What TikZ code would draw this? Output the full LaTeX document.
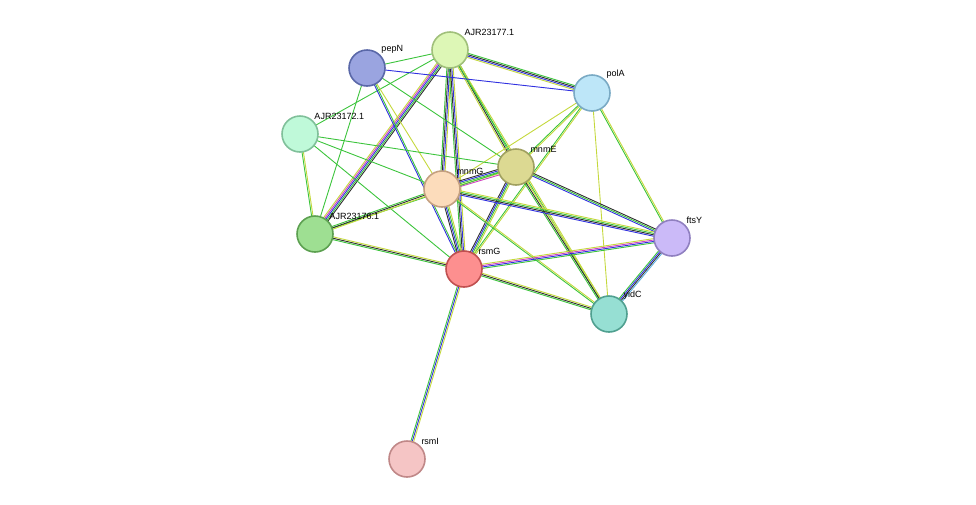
\documentclass[tikz,border=0pt]{standalone}
\usepackage{fontspec}
\setmainfont{Liberation Sans}
\usetikzlibrary{calc,backgrounds}
\definecolor{eg}{HTML}{3CC43C}
\definecolor{ey}{HTML}{C4D83C}
\definecolor{eb}{HTML}{3030E0}
\definecolor{ek}{HTML}{303030}
\definecolor{em}{HTML}{D040C0}
\definecolor{ec}{HTML}{60B0E0}
\tikzset{
  prot/.style={circle,draw,line width=1.6pt,minimum size=36pt,inner sep=0pt},
  lbl/.style={font=\fontsize{9}{10}\selectfont,inner sep=1pt,anchor=south west},
}
% parallel coloured lines between two nodes
\newcommand{\lnk}[3]{%
  \foreach \c [count=\i] in {#3} {\xdef\nl{\i}}%
  \foreach \c [count=\i] in {#3} {%
    \pgfmathsetmacro\off{(\i-(\nl+1)/2)*1.4}%
    \draw[\c,line width=0.9pt] ($(#1)!\off pt!90:(#2)$) -- ($(#2)!\off pt!-90:(#1)$);}%
}
\begin{document}
\begin{tikzpicture}[x=1pt,y=-1pt]
\useasboundingbox (0,0) rectangle (976,504);
\node[prot,fill={rgb,255:red,154;green,164;blue,224},draw={rgb,255:red,90;green,104;blue,168},label={[lbl]45:pepN}] (pepN) at (367,68) {};
\node[prot,fill={rgb,255:red,221;green,247;blue,182},draw={rgb,255:red,160;green,192;blue,122},label={[lbl]45:AJR23177.1}] (a177) at (450,50) {};
\node[prot,fill={rgb,255:red,189;green,230;blue,248},draw={rgb,255:red,122;green,170;blue,196},label={[lbl]45:polA}] (polA) at (592,93) {};
\node[prot,fill={rgb,255:red,191;green,249;blue,217},draw={rgb,255:red,128;green,192;blue,154},label={[lbl]45:AJR23172.1}] (a172) at (300,134) {};
\node[prot,fill={rgb,255:red,220;green,217;blue,146},draw={rgb,255:red,160;green,160;blue,96},label={[lbl]45:mnmE}] (mnmE) at (516,167) {};
\node[prot,fill={rgb,255:red,252;green,220;blue,187},draw={rgb,255:red,196;green,160;blue,128},label={[lbl]45:mnmG}] (mnmG) at (442,189) {};
\node[prot,fill={rgb,255:red,158;green,223;blue,146},draw={rgb,255:red,92;green,160;blue,80},label={[lbl]45:AJR23176.1}] (a176) at (315,234) {};
\node[prot,fill={rgb,255:red,203;green,186;blue,248},draw={rgb,255:red,144;green,128;blue,192},label={[lbl]45:ftsY}] (ftsY) at (672,238) {};
\node[prot,fill={rgb,255:red,253;green,143;blue,143},draw={rgb,255:red,192;green,80;blue,80},label={[lbl]45:rsmG}] (rsmG) at (464,269) {};
\node[prot,fill={rgb,255:red,150;green,223;blue,211},draw={rgb,255:red,80;green,160;blue,144},label={[lbl]45:yidC}] (yidC) at (609,314) {};
\node[prot,fill={rgb,255:red,245;green,197;blue,197},draw={rgb,255:red,192;green,136;blue,136},label={[lbl]45:rsmI}] (rsmI) at (407,459) {};
\begin{scope}[on background layer]
\lnk{a177}{pepN}{eg}
\lnk{a177}{polA}{ey,eb,ek,eg}
\lnk{a177}{mnmE}{ey,ek,eg}
\lnk{a177}{mnmG}{eg,ek,eb,ey}
\lnk{a177}{rsmG}{eg,ek,eb,ey}
\lnk{a177}{a176}{ey,em,eb,eg,ek}
\lnk{a177}{a172}{eg}
\lnk{a177}{yidC}{eg,ey}
\lnk{pepN}{polA}{eb}
\lnk{pepN}{mnmE}{eg}
\lnk{pepN}{rsmG}{eb,eg}
\lnk{pepN}{a176}{eg}
\lnk{pepN}{mnmG}{ey}
\lnk{polA}{mnmE}{eg,ey}
\lnk{polA}{mnmG}{ey}
\lnk{polA}{rsmG}{eg,ey}
\lnk{polA}{ftsY}{eg,ey}
\lnk{polA}{yidC}{ey}
\lnk{a172}{a176}{eg,ey}
\lnk{a172}{mnmE}{eg}
\lnk{a172}{rsmG}{eg}
\lnk{a172}{mnmG}{eg}
\lnk{mnmE}{mnmG}{ek,eb,eg,ey,em}
\lnk{mnmE}{rsmG}{ek,eb,eg,ey}
\lnk{mnmE}{a176}{eg}
\lnk{mnmE}{ftsY}{eb,eg,ek}
\lnk{mnmE}{yidC}{eg,ek,ey}
\lnk{mnmG}{a176}{eg,ek,ey}
\lnk{mnmG}{rsmG}{ek,eb,eg,ey}
\lnk{mnmG}{ftsY}{eb,ek,eg,ey}
\lnk{mnmG}{yidC}{eg,ey}
\lnk{a176}{rsmG}{eg,ek,ey}
\lnk{rsmG}{ftsY}{eg,eb,em,ey}
\lnk{rsmG}{yidC}{eg,ek,ey}
\lnk{rsmG}{rsmI}{eg,eb,ey}
\lnk{ftsY}{yidC}{eg,eb,ek,ec}
\end{scope}
\end{tikzpicture}
\end{document}
